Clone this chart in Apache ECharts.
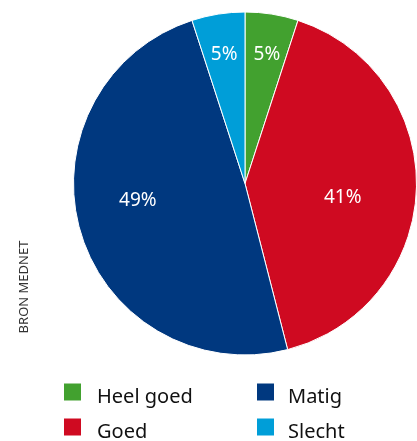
<!DOCTYPE html>
<html>
<head>
<meta charset="utf-8">
<script src="https://cdn.jsdelivr.net/npm/echarts@6/dist/echarts.min.js"></script>
<style>html,body{margin:0;padding:0;background:#fff;}#c{width:417px;height:441px;}</style>
</head>
<body>
<div id="c"></div>
<script>
const categories = ['Heel goed', 'Goed', 'Matig', 'Slecht'];
const values = [5, 41, 49, 5];
const colors = ['#42a12f', '#cf0a21', '#00387f', '#009ed8'];
const labelOffsets = [[8, -41], [9, 11], [-22, -8], [-7, -41]];
const source = 'BRON MEDNET';

const chart = echarts.init(document.getElementById('c'));
const font = '"Noto Sans", sans-serif';
const legendBase = {
  orient: 'vertical', top: 377, height: 120, padding: 0,
  itemWidth: 19, itemHeight: 19, itemGap: 5, icon: 'rect',
  selectedMode: false,
  formatter: '{t|{name}}'
};
function legendText(padLeft) {
  return {
    fontSize: 20, color: '#111', fontFamily: font,
    rich: { t: { fontSize: 20, lineHeight: 10, color: '#111', fontFamily: font, padding: [10, 0, 0, padLeft] } }
  };
}
chart.setOption({
  animation: false,
  color: colors,
  legend: [
    Object.assign({}, legendBase, { data: categories.slice(0, 2), left: 62, textStyle: legendText(10) }),
    Object.assign({}, legendBase, { data: categories.slice(2, 4), left: 255, textStyle: legendText(8) })
  ],
  graphic: [{
    type: 'text', x: 24, y: 287, rotation: Math.PI / 2,
    style: { text: source, fontSize: 13, fill: '#333', fontFamily: font, align: 'center', verticalAlign: 'middle' }
  }],
  series: [{
    type: 'pie',
    center: [245, 183.5],
    radius: 171.5,
    startAngle: 90,
    clockwise: true,
    avoidLabelOverlap: false,
    itemStyle: { borderColor: '#fff', borderWidth: 1 },
    label: {
      position: 'inside', color: '#fff', fontSize: 19, fontFamily: font,
      formatter: '{c}%'
    },
    labelLine: { show: false },
    emphasis: { disabled: true },
    data: categories.map((n, i) => ({ name: n, value: values[i], label: { offset: labelOffsets[i] } }))
  }]
});
</script>
</body>
</html>
